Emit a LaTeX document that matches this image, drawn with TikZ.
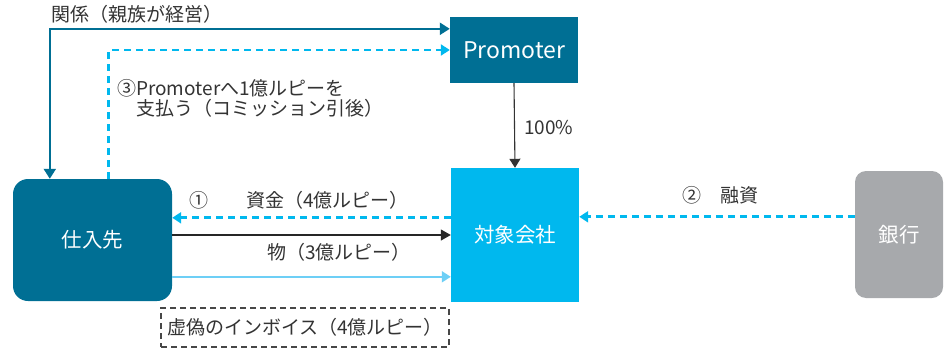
\documentclass[tikz,border=0pt]{standalone}
\usepackage{fontspec}
\setmainfont{Noto Sans CJK JP}
\usetikzlibrary{arrows.meta,calc}
\definecolor{teal}{HTML}{006F94}
\definecolor{sky}{HTML}{00B8EE}
\definecolor{lsky}{HTML}{6DCFF6}
\definecolor{bankgray}{HTML}{A7A9AC}
\definecolor{txt}{HTML}{333333}
\begin{document}
\begin{tikzpicture}[x=1pt,y=-1pt,
  boxtext/.style={text=white,font=\fontsize{20.5}{24}\selectfont,inner sep=0pt},
  lbl/.style={text=txt,font=\fontsize{19}{22}\selectfont,inner sep=0pt},
  dashline/.style={draw=sky,line width=2.8pt,dash pattern=on 7pt off 5pt},
  bigtip/.style={-{Triangle[length=9pt,width=11pt]}},
]
\useasboundingbox (0,0) rectangle (944,348);
\node[boxtext,fill=teal,minimum width=128pt,minimum height=66pt,font=\fontsize{23}{26}\selectfont] (prom) at (514,50) {Promoter};
\node[boxtext,fill=sky,minimum width=128pt,minimum height=134pt] (tgt) at (515,235) {対象会社};
\node[boxtext,fill=bankgray,rounded corners=11pt,minimum width=88pt,minimum height=127pt] (bank) at (899,234.5) {銀行};
\node[boxtext,fill=teal,rounded corners=15pt,minimum width=159pt,minimum height=122pt] (sup) at (92.5,240) {仕入先};
\node[lbl,draw=txt!90,line width=1.6pt,dash pattern=on 6pt off 4pt,minimum width=288pt,minimum height=39pt] (fake) at (305,327.5) {虚偽のインボイス（4億ルピー）};

% relation arrow
\coordinate (r1) at ($(prom.north west)+(0,12)$);
\coordinate (r2) at ($(sup.north west)+(37,0)$);
\draw[draw=teal,line width=2.2pt,{Triangle[length=10pt,width=12pt]}-{Triangle[length=10pt,width=12pt]}] (r1) -| (r2);
% payment 3
\coordinate (p1) at ($(sup.north west)+(96,0)$);
\draw[dashline,bigtip] (p1) |- (prom.west);
% 100%
\draw[draw=txt,line width=1.1pt,-{Triangle[length=9pt,width=11pt]}] (prom.south) -- (tgt.north);
% funds 1
\coordinate (f1) at ($(tgt.north west)+(0,50)$);
\draw[dashline,bigtip] (f1) -- (f1 -| sup.east);
% goods
\draw[draw=black!85,line width=1.1pt,-{Triangle[length=10pt,width=11pt]}] (sup.east |- tgt.west) -- (tgt.west);
% invoice
\coordinate (i1) at ($(tgt.north west)+(0,109)$);
\draw[draw=lsky,line width=2pt,bigtip] (i1 -| sup.east) -- (i1);
% loan 2
\coordinate (b1) at ($(bank.north west)+(0,46)$);
\draw[dashline,bigtip] (b1) -- (b1 -| tgt.east);

% labels
\node[lbl] (l1) at (137,14) {関係（親族が経営）};
\node[lbl,anchor=west] (l2) at (117,88) {③Promoterへ1億ルピーを};
\node[lbl,anchor=west] (l3) at (136,108) {支払う（コミッション引後）};
\node[lbl,anchor=west] (l4) at (524,128) {100\%};
\node[lbl] (l5) at (199,200) {①};
\node[lbl,anchor=west] (l6) at (246,200) {資金（4億ルピー）};
\node[lbl,anchor=west] (l7) at (267,252) {物（3億ルピー）};
\node[lbl] (l8) at (692,195) {②};
\node[lbl,anchor=west] (l9) at (720,195) {融資};
\end{tikzpicture}
\end{document}
